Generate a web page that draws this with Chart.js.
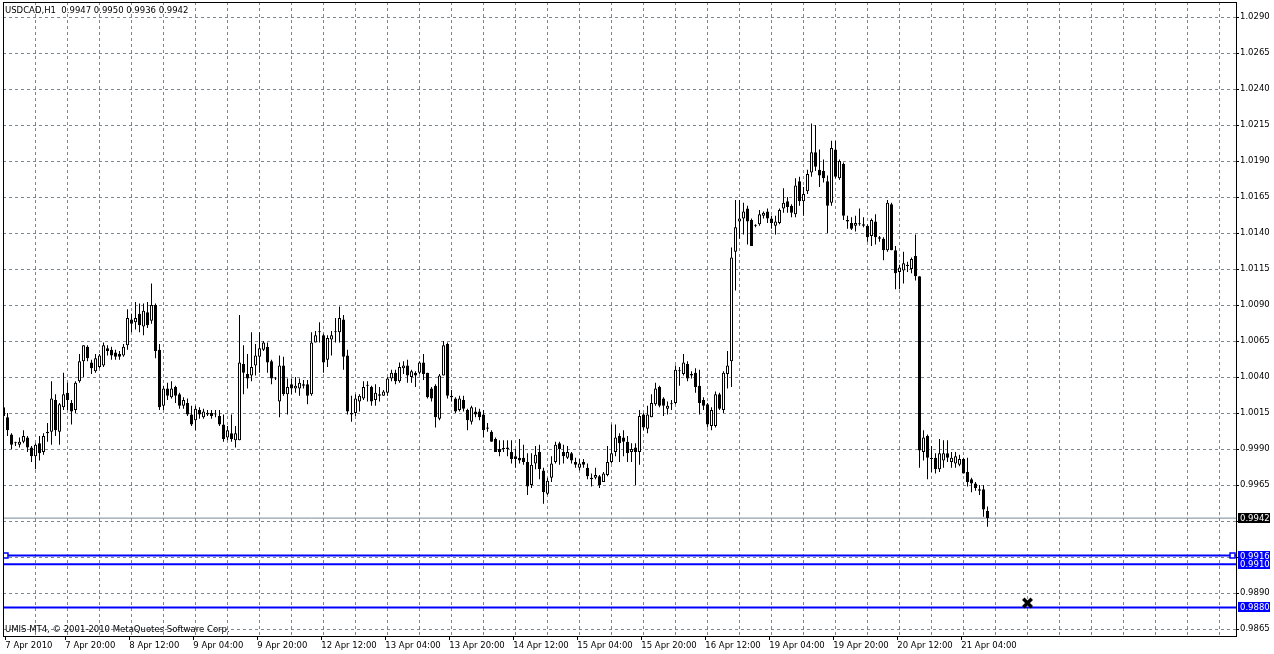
<!DOCTYPE html>
<html>
<head>
<meta charset="utf-8">
<title>USDCAD,H1</title>
<script src="https://cdn.jsdelivr.net/npm/chart.js@4.4.1/dist/chart.umd.min.js"></script>
<style>
  html, body { margin: 0; padding: 0; background: #fff; }
  canvas { display: block; }
</style>
</head>
<body>
<canvas id="chart" width="1274" height="654"></canvas>
<script>
// USDCAD H1, one value per hourly bar, 7 Apr 2010 05:00 .. 21 Apr 2010 11:00
const openPrices = [
  1.0019, 1.0012, 1.0000, 0.9994, 0.9993, 0.9995, 0.9998, 0.9991, 0.9985, 0.9994,
  0.9988, 1.0001, 1.0002, 1.0024, 1.0002, 1.0019, 1.0029, 1.0022, 1.0017, 1.0037,
  1.0051, 1.0061, 1.0050, 1.0044, 1.0047, 1.0048, 1.0060, 1.0059, 1.0057, 1.0056,
  1.0055, 1.0062, 1.0080, 1.0078, 1.0084, 1.0075, 1.0085, 1.0079, 1.0090, 1.0059,
  1.0020, 1.0032, 1.0026, 1.0033, 1.0028, 1.0020, 1.0022, 1.0014, 1.0010, 1.0017,
  1.0012, 1.0015, 1.0015, 1.0014, 1.0013, 1.0007, 0.9998, 1.0001, 0.9996, 0.9996,
  1.0049, 1.0042, 1.0041, 1.0048, 1.0054, 1.0059, 1.0061, 1.0051, 1.0039, 1.0023,
  1.0048, 1.0028, 1.0035, 1.0032, 1.0032, 1.0035, 1.0035, 1.0028, 1.0064, 1.0071,
  1.0069, 1.0052, 1.0066, 1.0071, 1.0071, 1.0080, 1.0055, 1.0015, 1.0015, 1.0023,
  1.0025, 1.0034, 1.0033, 1.0024, 1.0028, 1.0027, 1.0029, 1.0039, 1.0043, 1.0037,
  1.0046, 1.0048, 1.0040, 1.0043, 1.0043, 1.0050, 1.0043, 1.0032, 1.0034, 1.0011,
  1.0041, 1.0063, 1.0027, 1.0025, 1.0017, 1.0024, 1.0017, 1.0009, 1.0016, 1.0016,
  1.0014, 1.0005, 1.0002, 0.9997, 0.9990, 0.9990, 0.9991, 0.9988, 0.9985, 0.9984,
  0.9984, 0.9981, 0.9965, 0.9980, 0.9988, 0.9975, 0.9959, 0.9970, 0.9981, 0.9994,
  0.9988, 0.9984, 0.9987, 0.9981, 0.9977, 0.9981, 0.9977, 0.9970, 0.9970, 0.9971,
  0.9967, 0.9972, 0.9981, 0.9988, 0.9999, 0.9998, 0.9995, 0.9988, 0.9991, 0.9988,
  1.0014, 1.0004, 1.0012, 1.0021, 1.0033, 1.0025, 1.0018, 1.0021, 1.0022, 1.0044,
  1.0042, 1.0049, 1.0042, 1.0043, 1.0034, 1.0024, 1.0021, 1.0006, 1.0006, 1.0028,
  1.0017, 1.0042, 1.0051, 1.0127, 1.0148, 1.0150, 1.0157, 1.0149, 1.0145, 1.0146,
  1.0152, 1.0155, 1.0150, 1.0145, 1.0147, 1.0157, 1.0162, 1.0159, 1.0153, 1.0176,
  1.0162, 1.0169, 1.0182, 1.0196, 1.0184, 1.0183, 1.0176, 1.0161, 1.0198, 1.0178,
  1.0188, 1.0149, 1.0147, 1.0145, 1.0146, 1.0146, 1.0145, 1.0138, 1.0148, 1.0137,
  1.0136, 1.0128, 1.0160, 1.0128, 1.0113, 1.0114, 1.0118, 1.0115, 1.0124, 1.0110,
  0.9988, 0.9999, 0.9983, 0.9984, 0.9976, 0.9982, 0.9987, 0.9981, 0.9980, 0.9979,
  0.9983, 0.9974, 0.9969, 0.9966, 0.9962, 0.9962, 0.9947
];
const highPrices = [
  1.0022, 1.0015, 1.0001, 0.9995, 0.9998, 1.0003, 0.9999, 0.9992, 0.9994, 0.9999,
  1.0001, 1.0008, 1.0037, 1.0028, 1.0022, 1.0043, 1.0036, 1.0024, 1.0037, 1.0056,
  1.0062, 1.0062, 1.0052, 1.0056, 1.0056, 1.0064, 1.0062, 1.0061, 1.0059, 1.0058,
  1.0063, 1.0087, 1.0084, 1.0092, 1.0091, 1.0091, 1.0092, 1.0105, 1.0091, 1.0063,
  1.0034, 1.0036, 1.0037, 1.0034, 1.0029, 1.0026, 1.0025, 1.0020, 1.0020, 1.0019,
  1.0018, 1.0017, 1.0017, 1.0017, 1.0017, 1.0014, 1.0006, 1.0014, 1.0006, 1.0083,
  1.0062, 1.0056, 1.0071, 1.0063, 1.0071, 1.0065, 1.0064, 1.0052, 1.0040, 1.0055,
  1.0054, 1.0039, 1.0039, 1.0040, 1.0039, 1.0038, 1.0038, 1.0071, 1.0072, 1.0078,
  1.0070, 1.0069, 1.0072, 1.0081, 1.0089, 1.0083, 1.0059, 1.0027, 1.0028, 1.0028,
  1.0037, 1.0037, 1.0034, 1.0035, 1.0033, 1.0031, 1.0040, 1.0045, 1.0045, 1.0050,
  1.0051, 1.0052, 1.0045, 1.0044, 1.0051, 1.0056, 1.0043, 1.0033, 1.0035, 1.0042,
  1.0065, 1.0064, 1.0031, 1.0026, 1.0027, 1.0027, 1.0018, 1.0020, 1.0019, 1.0018,
  1.0017, 1.0008, 1.0003, 0.9998, 0.9996, 0.9996, 0.9996, 0.9996, 0.9990, 0.9997,
  0.9993, 0.9987, 0.9987, 0.9992, 0.9993, 0.9977, 0.9970, 0.9985, 0.9995, 0.9995,
  0.9993, 0.9992, 0.9988, 0.9984, 0.9983, 0.9983, 0.9980, 0.9973, 0.9977, 0.9972,
  0.9974, 0.9992, 1.0007, 1.0007, 1.0001, 1.0003, 0.9999, 0.9994, 0.9994, 1.0017,
  1.0015, 1.0020, 1.0028, 1.0036, 1.0034, 1.0026, 1.0023, 1.0024, 1.0048, 1.0047,
  1.0056, 1.0051, 1.0044, 1.0046, 1.0045, 1.0026, 1.0022, 1.0019, 1.0030, 1.0029,
  1.0044, 1.0058, 1.0130, 1.0163, 1.0163, 1.0161, 1.0159, 1.0150, 1.0146, 1.0156,
  1.0155, 1.0157, 1.0152, 1.0152, 1.0157, 1.0171, 1.0165, 1.0160, 1.0178, 1.0179,
  1.0172, 1.0184, 1.0216, 1.0215, 1.0198, 1.0191, 1.0180, 1.0204, 1.0204, 1.0191,
  1.0189, 1.0152, 1.0151, 1.0152, 1.0157, 1.0151, 1.0146, 1.0150, 1.0153, 1.0138,
  1.0137, 1.0163, 1.0161, 1.0131, 1.0118, 1.0127, 1.0120, 1.0123, 1.0139, 1.0110,
  1.0003, 1.0000, 0.9992, 0.9987, 0.9997, 0.9996, 0.9996, 0.9988, 0.9988, 0.9986,
  0.9984, 0.9984, 0.9970, 0.9967, 0.9965, 0.9965, 0.9950
];
const lowPrices = [
  1.0007, 0.9999, 0.9990, 0.9992, 0.9991, 0.9994, 0.9988, 0.9981, 0.9976, 0.9982,
  0.9986, 0.9995, 0.9993, 0.9999, 0.9993, 1.0017, 1.0017, 1.0007, 1.0015, 1.0036,
  1.0040, 1.0051, 1.0042, 1.0043, 1.0046, 1.0047, 1.0055, 1.0052, 1.0052, 1.0052,
  1.0054, 1.0059, 1.0071, 1.0073, 1.0071, 1.0069, 1.0074, 1.0077, 1.0053, 1.0017,
  1.0017, 1.0024, 1.0025, 1.0022, 1.0018, 1.0018, 1.0013, 1.0006, 1.0003, 1.0011,
  1.0011, 1.0013, 1.0011, 1.0012, 1.0006, 0.9995, 0.9996, 0.9995, 0.9991, 0.9996,
  1.0028, 1.0032, 1.0037, 1.0041, 1.0043, 1.0058, 1.0043, 1.0035, 1.0038, 1.0012,
  1.0027, 1.0014, 1.0028, 1.0029, 1.0027, 1.0032, 1.0021, 1.0027, 1.0064, 1.0064,
  1.0043, 1.0047, 1.0055, 1.0064, 1.0064, 1.0045, 1.0014, 1.0009, 1.0013, 1.0016,
  1.0024, 1.0023, 1.0020, 1.0020, 1.0023, 1.0027, 1.0027, 1.0037, 1.0035, 1.0036,
  1.0042, 1.0036, 1.0036, 1.0033, 1.0042, 1.0038, 1.0025, 1.0023, 1.0005, 1.0010,
  1.0041, 1.0025, 1.0023, 1.0015, 1.0016, 1.0016, 1.0003, 1.0007, 1.0012, 1.0010,
  0.9998, 1.0002, 0.9995, 0.9988, 0.9985, 0.9988, 0.9985, 0.9980, 0.9977, 0.9980,
  0.9979, 0.9958, 0.9963, 0.9976, 0.9969, 0.9952, 0.9958, 0.9967, 0.9980, 0.9979,
  0.9980, 0.9983, 0.9980, 0.9977, 0.9975, 0.9977, 0.9969, 0.9964, 0.9969, 0.9963,
  0.9967, 0.9971, 0.9980, 0.9985, 0.9981, 0.9985, 0.9981, 0.9981, 0.9965, 0.9979,
  1.0003, 1.0001, 1.0012, 1.0020, 1.0019, 1.0013, 1.0014, 1.0017, 1.0021, 1.0034,
  1.0041, 1.0037, 1.0039, 1.0029, 1.0014, 1.0017, 1.0005, 1.0003, 1.0005, 1.0017,
  1.0015, 1.0032, 1.0033, 1.0100, 1.0136, 1.0139, 1.0132, 1.0131, 1.0144, 1.0145,
  1.0150, 1.0147, 1.0143, 1.0139, 1.0146, 1.0154, 1.0154, 1.0151, 1.0151, 1.0159,
  1.0152, 1.0167, 1.0179, 1.0183, 1.0172, 1.0175, 1.0140, 1.0159, 1.0178, 1.0177,
  1.0149, 1.0143, 1.0142, 1.0141, 1.0145, 1.0144, 1.0134, 1.0131, 1.0132, 1.0134,
  1.0121, 1.0127, 1.0128, 1.0101, 1.0101, 1.0105, 1.0113, 1.0112, 1.0107, 0.9977,
  0.9982, 0.9969, 0.9974, 0.9973, 0.9974, 0.9977, 0.9981, 0.9977, 0.9977, 0.9978,
  0.9973, 0.9964, 0.9960, 0.9961, 0.9958, 0.9943, 0.9936
];
const closePrices = [
  1.0013, 1.0003, 0.9993, 0.9994, 0.9995, 0.9999, 0.9991, 0.9985, 0.9993, 0.9987,
  0.9999, 1.0002, 1.0025, 1.0003, 1.0021, 1.0028, 1.0024, 1.0016, 1.0036, 1.0051,
  1.0062, 1.0053, 1.0046, 1.0053, 1.0055, 1.0062, 1.0058, 1.0055, 1.0054, 1.0054,
  1.0061, 1.0081, 1.0077, 1.0081, 1.0076, 1.0086, 1.0076, 1.0090, 1.0058, 1.0019,
  1.0032, 1.0027, 1.0032, 1.0027, 1.0020, 1.0024, 1.0014, 1.0007, 1.0018, 1.0014,
  1.0016, 1.0014, 1.0013, 1.0014, 1.0007, 0.9997, 1.0003, 0.9997, 1.0001, 1.0050,
  1.0043, 1.0039, 1.0047, 1.0055, 1.0060, 1.0064, 1.0050, 1.0039, 1.0039, 1.0048,
  1.0028, 1.0033, 1.0032, 1.0034, 1.0036, 1.0034, 1.0027, 1.0064, 1.0069, 1.0071,
  1.0050, 1.0067, 1.0069, 1.0071, 1.0081, 1.0054, 1.0016, 1.0014, 1.0025, 1.0027,
  1.0033, 1.0034, 1.0023, 1.0029, 1.0027, 1.0030, 1.0039, 1.0043, 1.0037, 1.0047,
  1.0048, 1.0041, 1.0044, 1.0041, 1.0050, 1.0042, 1.0026, 1.0025, 1.0012, 1.0041,
  1.0062, 1.0027, 1.0026, 1.0016, 1.0025, 1.0018, 1.0010, 1.0019, 1.0014, 1.0012,
  1.0003, 1.0004, 0.9995, 0.9988, 0.9988, 0.9990, 0.9990, 0.9983, 0.9983, 0.9982,
  0.9981, 0.9964, 0.9979, 0.9986, 0.9976, 0.9960, 0.9968, 0.9980, 0.9993, 0.9990,
  0.9985, 0.9988, 0.9982, 0.9979, 0.9980, 0.9979, 0.9971, 0.9969, 0.9972, 0.9965,
  0.9973, 0.9981, 0.9987, 0.9998, 0.9994, 0.9995, 0.9987, 0.9990, 0.9988, 1.0013,
  1.0005, 1.0014, 1.0022, 1.0032, 1.0020, 1.0020, 1.0020, 1.0021, 1.0045, 1.0044,
  1.0050, 1.0039, 1.0041, 1.0033, 1.0022, 1.0020, 1.0007, 1.0017, 1.0028, 1.0018,
  1.0043, 1.0048, 1.0123, 1.0144, 1.0150, 1.0155, 1.0148, 1.0131, 1.0145, 1.0153,
  1.0154, 1.0150, 1.0147, 1.0148, 1.0156, 1.0161, 1.0158, 1.0154, 1.0173, 1.0162,
  1.0167, 1.0181, 1.0196, 1.0186, 1.0180, 1.0178, 1.0159, 1.0199, 1.0179, 1.0190,
  1.0152, 1.0148, 1.0143, 1.0147, 1.0146, 1.0145, 1.0137, 1.0149, 1.0137, 1.0136,
  1.0128, 1.0161, 1.0128, 1.0112, 1.0116, 1.0119, 1.0117, 1.0122, 1.0110, 0.9989,
  0.9998, 0.9984, 0.9983, 0.9976, 0.9987, 0.9987, 0.9984, 0.9984, 0.9985, 0.9983,
  0.9973, 0.9967, 0.9966, 0.9963, 0.9961, 0.9948, 0.9942
];

// time axis labels and the bar each one belongs to
const timeLabels = ['7 Apr 2010', '7 Apr 20:00', '8 Apr 12:00', '9 Apr 04:00', '9 Apr 20:00',
  '12 Apr 12:00', '13 Apr 04:00', '13 Apr 20:00', '14 Apr 12:00', '15 Apr 04:00',
  '15 Apr 20:00', '16 Apr 12:00', '19 Apr 04:00', '19 Apr 20:00', '20 Apr 12:00', '21 Apr 04:00'];
const timeLabelBars = [0, 15, 31, 47, 63, 79, 95, 111, 127, 143, 159, 175, 191, 207, 223, 239];

const priceTicks = [0.9865, 0.9890, 0.9915, 0.9940, 0.9965, 0.9990, 1.0015, 1.0040, 1.0065,
  1.0090, 1.0115, 1.0140, 1.0165, 1.0190, 1.0215, 1.0240, 1.0265, 1.0290];

const bidPrice = 0.9942;
const levelPrices = [0.9916, 0.9910, 0.9880];
const closeMarkBar = 256;
const closeMarkPrice = 0.9883;

// ---- layout / style ----
const GRID = '#778899';
const BLUE = '#0000ff';
const FONT = { family: 'DejaVu Sans', size: 8.5 };
const X_MIN = -0.125, X_MAX = 308.125;       // 4 px per bar
const Y_MIN = 0.986014, Y_MAX = 1.030042;    // 36 px per 0.0025

const n = openPrices.length;
const wicks = [], bodies = [], bodyColors = [];
for (let i = 0; i < n; i++) {
  wicks.push({ x: i, y: [lowPrices[i], highPrices[i]] });
  bodies.push({ x: i, y: [openPrices[i], closePrices[i]] });
  bodyColors.push(closePrices[i] >= openPrices[i] ? '#ffffff' : '#000000');
}

const hline = v => [{ x: X_MIN, y: v }, { x: X_MAX, y: v }];

const mt4Overlay = {
  id: 'mt4Overlay',
  afterDraw(chart) {
    const { ctx, chartArea: a, scales: { y } } = chart;
    ctx.save();
    ctx.strokeStyle = '#000';
    ctx.lineWidth = 1;
    ctx.strokeRect(Math.round(a.left) + 0.5, Math.round(a.top) + 0.5,
      Math.round(a.right - a.left), Math.round(a.bottom - a.top));

    ctx.font = FONT.size + 'px "' + FONT.family + '"';
    ctx.fillStyle = '#000';
    ctx.textBaseline = 'alphabetic';
    const k = n - 1;
    const ohlc = [openPrices[k], highPrices[k], lowPrices[k], closePrices[k]].map(v => v.toFixed(4)).join(' ');
    ctx.fillText('USDCAD,H1  ' + ohlc, 5, 13);
    ctx.fillText('UMIS MT4, \u00a9 2001-2010 MetaQuotes Software Corp.', 5, 632);

    // price tags on the right scale
    const tag = (v, bg) => {
      const py = Math.round(y.getPixelForValue(v));
      ctx.fillStyle = bg;
      ctx.fillRect(1238, py - 5, 32, 10);
      ctx.fillStyle = '#fff';
      ctx.textBaseline = 'middle';
      ctx.fillText(v.toFixed(4), 1240, py + 0.5);
    };
    tag(bidPrice, '#000');
    levelPrices.forEach(v => tag(v, BLUE));
    ctx.restore();
  }
};

new Chart(document.getElementById('chart'), {
  type: 'bar',
  data: {
    datasets: [
      {
        label: 'body', data: bodies, order: 1,
        backgroundColor: bodyColors, borderColor: '#000', borderWidth: 1,
        borderSkipped: false, barThickness: 3, grouped: false, minBarLength: 1, inflateAmount: 0
      },
      {
        label: 'wick', data: wicks, order: 2,
        backgroundColor: '#000', borderWidth: 0,
        barThickness: 1, grouped: false, inflateAmount: 0
      },
      {
        type: 'line', label: 'bid', data: hline(bidPrice), order: 3,
        borderColor: GRID, borderWidth: 1, pointRadius: 0
      },
      ...levelPrices.map(v => ({
        type: 'line', label: 'level ' + v, data: hline(v), order: 3,
        borderColor: BLUE, borderWidth: 2, pointRadius: 0
      })),
      {
        type: 'scatter', label: 'selected', order: 0,
        data: [{ x: 0.5, y: levelPrices[0] }, { x: 307.25, y: levelPrices[0] }],
        pointStyle: 'rect', pointRadius: 3.5, pointBorderWidth: 1.5,
        pointBackgroundColor: '#fff', pointBorderColor: BLUE
      },
      {
        type: 'scatter', label: 'close', order: 0,
        data: [{ x: closeMarkBar, y: closeMarkPrice }],
        pointStyle: 'crossRot', pointRadius: 6, pointBorderWidth: 3.5,
        pointBorderColor: '#000', pointBackgroundColor: '#000'
      }
    ]
  },
  options: {
    responsive: false,
    animation: false,
    devicePixelRatio: 1,
    events: [],
    layout: { autoPadding: false, padding: { left: 3, top: 2, right: 0, bottom: 0 } },
    plugins: { legend: { display: false }, tooltip: { enabled: false } },
    scales: {
      x: {
        type: 'linear', min: X_MIN, max: X_MAX, offset: false,
        afterBuildTicks: s => {
          const t = [];
          for (let v = 8.05; v < X_MAX; v += 8) t.push({ value: v, grid: true });
          timeLabelBars.forEach((b, i) => t.push({ value: b + 0.45, text: timeLabels[i] }));
          t.sort((p, q) => p.value - q.value);
          s.ticks = t;
        },
        afterFit: s => { s.height = 18; s.paddingLeft = 0; s.paddingRight = 0; },
        ticks: {
          autoSkip: false, maxRotation: 0, minRotation: 0, align: 'start',
          color: '#000', font: FONT, padding: 1,
          callback: (v, i, ticks) => ticks[i].text || ''
        },
        grid: {
          offset: false, lineWidth: 1, tickLength: 4, tickBorderDash: [],
          color: c => (c.tick && c.tick.grid) ? GRID : 'rgba(0,0,0,0)',
          tickColor: c => (c.tick && c.tick.grid) ? 'rgba(0,0,0,0)' : '#000'
        },
        border: { display: false, dash: [3, 3] }
      },
      y: {
        type: 'linear', position: 'right', min: Y_MIN, max: Y_MAX, beginAtZero: false,
        afterBuildTicks: s => { s.ticks = priceTicks.map(v => ({ value: v })); },
        afterFit: s => { s.width = 38; s.paddingTop = 0; s.paddingBottom = 0; },
        ticks: {
          color: '#000', font: FONT, padding: 1,
          callback: v => [bidPrice, ...levelPrices].some(l => Math.abs(l - v) < 0.00035) ? '' : v.toFixed(4)
        },
        grid: { color: GRID, lineWidth: 1, tickLength: 3, tickColor: '#000', tickBorderDash: [] },
        border: { display: false, dash: [3, 3] }
      }
    }
  },
  plugins: [mt4Overlay]
});
</script>
</body>
</html>
